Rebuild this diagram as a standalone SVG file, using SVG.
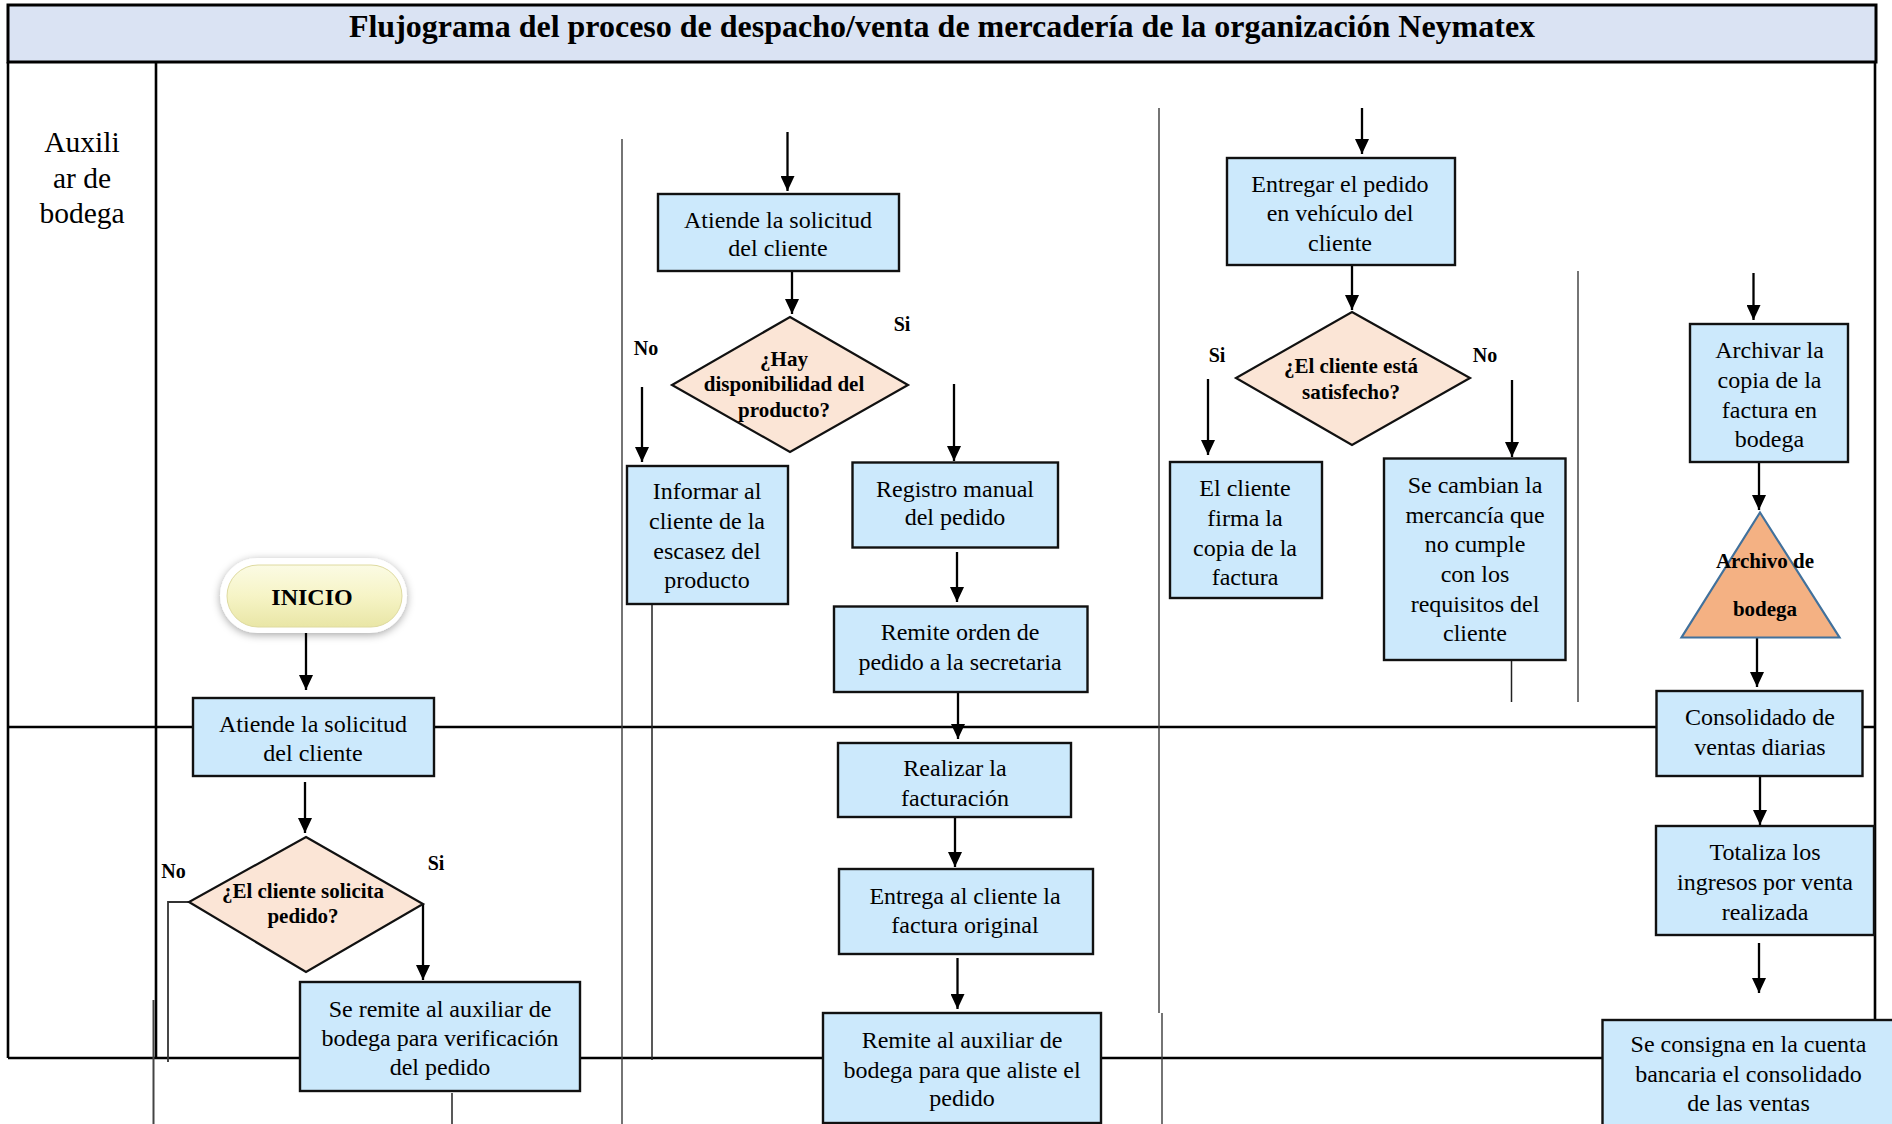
<svg xmlns="http://www.w3.org/2000/svg" width="1892" height="1124" viewBox="0 0 1892 1124">
  <defs>
    <style>
      .frame { stroke: #000; stroke-width: 2.6; fill: none; }
      .sep { stroke: #3a3a3a; stroke-width: 1.4; fill: none; }
      .box { fill: #cce9fc; stroke: #111; stroke-width: 2.4; }
      .dec { fill: #fbe5d6; stroke: #111; stroke-width: 2.2; }
      .conn { stroke: #000; stroke-width: 2.3; fill: none; marker-end: url(#ah); }
      .plain { stroke: #222; stroke-width: 1.5; fill: none; }
      text { font-family: "Liberation Serif", "Times New Roman", serif; fill: #000; text-anchor: middle; }
      .t { font-size: 24px; }
      .tb { font-size: 21px; font-weight: bold; }
      .lbl { font-size: 20px; font-weight: bold; }
    </style>
    <marker id="ah" markerWidth="15" markerHeight="14" refX="15" refY="7" orient="auto" markerUnits="userSpaceOnUse">
      <path d="M0,0 L15,7 L0,14 z" fill="#000"/>
    </marker>
    <linearGradient id="pillFill" x1="0" y1="0" x2="0" y2="1">
      <stop offset="0" stop-color="#fbfbe4"/>
      <stop offset="0.5" stop-color="#f6f4c6"/>
      <stop offset="1" stop-color="#e9e6a6"/>
    </linearGradient>
    <filter id="glow" x="-20%" y="-40%" width="140%" height="180%">
      <feDropShadow dx="0" dy="2" stdDeviation="4" flood-color="#000" flood-opacity="0.35"/>
    </filter>
  </defs>

  <!-- title band -->
  <g id="title">
    <rect x="8" y="5" width="1868" height="57" fill="#dae3f3" stroke="#000" stroke-width="3"/>
    <text x="942" y="37" style="font-size:32px;font-weight:bold">Flujograma del proceso de despacho/venta de mercadería de la organización Neymatex</text>
  </g>

  <!-- lane frame and separators -->
  <g id="lanes">
    <line class="frame" x1="8" y1="62" x2="8" y2="1058"/>
    <line class="frame" x1="156" y1="62" x2="156" y2="1058"/>
    <line class="frame" x1="1875" y1="62" x2="1875" y2="1020"/>
    <line class="frame" x1="8" y1="727" x2="1875" y2="727"/>
    <line class="frame" x1="8" y1="1058" x2="1602" y2="1058"/>
    <line x1="153.5" y1="1000" x2="153.5" y2="1124" stroke="#444" stroke-width="2"/>
    <line class="sep" x1="622" y1="139" x2="622" y2="1124"/>
    <line class="sep" x1="1159" y1="108" x2="1159" y2="1013"/>
    <line class="sep" x1="1162" y1="1013" x2="1162" y2="1124"/>
    <line class="sep" x1="1578" y1="271" x2="1578" y2="702"/>
    <text x="82" y="152" style="font-size:29.5px">Auxili</text>
    <text x="82" y="188" style="font-size:29.5px">ar de</text>
    <text x="82" y="223" style="font-size:29.5px">bodega</text>
  </g>

  <!-- connectors -->
  <g id="connectors">
    <line class="conn" x1="306" y1="631" x2="306" y2="690"/>
    <line class="conn" x1="305" y1="782" x2="305" y2="833"/>
    <line class="conn" x1="423" y1="904" x2="423" y2="980"/>
    <polyline points="189,902 168,902 168,1062" stroke="#333" stroke-width="1.8" fill="none"/>
    <line class="plain" x1="452" y1="1093" x2="452" y2="1124"/>

    <line class="conn" x1="787.5" y1="132" x2="787.5" y2="191"/>
    <line class="conn" x1="792" y1="264" x2="792" y2="314"/>
    <line class="conn" x1="642" y1="387" x2="642" y2="462"/>
    <line class="conn" x1="954" y1="384" x2="954" y2="461"/>
    <line class="plain" x1="652" y1="604" x2="652" y2="1060"/>
    <line class="conn" x1="957" y1="552" x2="957" y2="602"/>
    <line class="conn" x1="958" y1="688" x2="958" y2="739"/>
    <line class="conn" x1="955" y1="817" x2="955" y2="867"/>
    <line class="conn" x1="957.5" y1="958" x2="957.5" y2="1009"/>

    <line class="conn" x1="1362" y1="108" x2="1362" y2="154"/>
    <line class="conn" x1="1352" y1="265" x2="1352" y2="310"/>
    <line class="conn" x1="1208" y1="379" x2="1208" y2="455"/>
    <line class="conn" x1="1512" y1="380" x2="1512" y2="457"/>
    <line class="plain" x1="1511.5" y1="660" x2="1511.5" y2="702"/>

    <line class="conn" x1="1753.5" y1="273" x2="1753.5" y2="320"/>
    <line class="conn" x1="1759" y1="462" x2="1759" y2="510"/>
    <line class="conn" x1="1757" y1="637" x2="1757" y2="687"/>
    <line class="conn" x1="1760" y1="776" x2="1760" y2="825"/>
    <line class="conn" x1="1759" y1="943" x2="1759" y2="993"/>

    <text class="lbl" x="173.5" y="878">No</text>
    <text class="lbl" x="436" y="870">Si</text>
    <text class="lbl" x="646" y="355">No</text>
    <text class="lbl" x="902" y="331">Si</text>
    <text class="lbl" x="1217" y="362">Si</text>
    <text class="lbl" x="1485" y="362">No</text>
  </g>

  <!-- start terminator -->
  <g id="inicio">
    <rect x="220" y="558" width="187" height="75" rx="37.5" fill="#fff" filter="url(#glow)"/>
    <rect x="227" y="565" width="175" height="62" rx="31" fill="url(#pillFill)" stroke="#dedaa0" stroke-width="1"/>
    <text x="312" y="605" style="font-size:24px;font-weight:bold">INICIO</text>
  </g>

  <g id="atiende-bodega">
    <rect class="box" x="193" y="698" width="241" height="78"/>
    <text class="t" x="313" y="732">Atiende la solicitud</text>
    <text class="t" x="313" y="761">del cliente</text>
  </g>

  <g id="dec-solicita">
    <polygon class="dec" points="306,837 423,904 306,972 189,902"/>
    <text class="tb" x="303" y="898">¿El cliente solicita</text>
    <text class="tb" x="303" y="923">pedido?</text>
  </g>

  <g id="se-remite">
    <rect class="box" x="300" y="982" width="280" height="109"/>
    <text class="t" x="440" y="1017">Se remite al auxiliar de</text>
    <text class="t" x="440" y="1046">bodega para verificación</text>
    <text class="t" x="440" y="1075">del pedido</text>
  </g>

  <g id="atiende-ventas">
    <rect class="box" x="658" y="194" width="241" height="77"/>
    <text class="t" x="778" y="228">Atiende la solicitud</text>
    <text class="t" x="778" y="256">del cliente</text>
  </g>

  <g id="dec-disponibilidad">
    <polygon class="dec" points="790,317 908,385 790,452 672,385"/>
    <text class="tb" x="784" y="366">¿Hay</text>
    <text class="tb" x="784" y="391">disponibilidad del</text>
    <text class="tb" x="784" y="417">producto?</text>
  </g>

  <g id="informar">
    <rect class="box" x="627" y="466" width="161" height="138"/>
    <text class="t" x="707" y="499">Informar al</text>
    <text class="t" x="707" y="529">cliente de la</text>
    <text class="t" x="707" y="559">escasez del</text>
    <text class="t" x="707" y="588">producto</text>
  </g>

  <g id="registro">
    <rect class="box" x="852.5" y="462.5" width="205.5" height="85"/>
    <text class="t" x="955" y="497">Registro manual</text>
    <text class="t" x="955" y="525">del pedido</text>
  </g>

  <g id="remite-orden">
    <rect class="box" x="834" y="606.5" width="253.5" height="85.5"/>
    <text class="t" x="960" y="640">Remite orden de</text>
    <text class="t" x="960" y="670">pedido a la secretaria</text>
  </g>

  <g id="facturacion">
    <rect class="box" x="838" y="743" width="233" height="74"/>
    <text class="t" x="955" y="776">Realizar la</text>
    <text class="t" x="955" y="806">facturación</text>
  </g>

  <g id="entrega-factura">
    <rect class="box" x="839" y="869" width="254" height="85"/>
    <text class="t" x="965" y="904">Entrega al cliente la</text>
    <text class="t" x="965" y="933">factura original</text>
  </g>

  <g id="remite-auxiliar">
    <rect class="box" x="823" y="1013" width="278" height="110"/>
    <text class="t" x="962" y="1048">Remite al auxiliar de</text>
    <text class="t" x="962" y="1078">bodega para que aliste el</text>
    <text class="t" x="962" y="1106">pedido</text>
  </g>

  <g id="entregar-pedido">
    <rect class="box" x="1227" y="158" width="228" height="107"/>
    <text class="t" x="1340" y="192">Entregar el pedido</text>
    <text class="t" x="1340" y="221">en vehículo del</text>
    <text class="t" x="1340" y="251">cliente</text>
  </g>

  <g id="dec-satisfecho">
    <polygon class="dec" points="1352,312 1470,378 1352,445 1236,378"/>
    <text class="tb" x="1351" y="373">¿El cliente está</text>
    <text class="tb" x="1351" y="399">satisfecho?</text>
  </g>

  <g id="firma">
    <rect class="box" x="1170" y="462" width="152" height="136"/>
    <text class="t" x="1245" y="496">El cliente</text>
    <text class="t" x="1245" y="526">firma la</text>
    <text class="t" x="1245" y="556">copia de la</text>
    <text class="t" x="1245" y="585">factura</text>
  </g>

  <g id="cambio">
    <rect class="box" x="1384" y="458.5" width="181.5" height="201.5"/>
    <text class="t" x="1475" y="493">Se cambian la</text>
    <text class="t" x="1475" y="523">mercancía que</text>
    <text class="t" x="1475" y="552">no cumple</text>
    <text class="t" x="1475" y="582">con los</text>
    <text class="t" x="1475" y="612">requisitos del</text>
    <text class="t" x="1475" y="641">cliente</text>
  </g>

  <g id="archivar">
    <rect class="box" x="1690" y="324" width="158" height="138"/>
    <text class="t" x="1769.5" y="358">Archivar la</text>
    <text class="t" x="1769.5" y="388">copia de la</text>
    <text class="t" x="1769.5" y="418">factura en</text>
    <text class="t" x="1769.5" y="447">bodega</text>
  </g>

  <g id="archivo-bodega">
    <polygon points="1760,512.5 1839.5,637.5 1681.5,637.5" fill="#f4b183" stroke="#41719c" stroke-width="2.2"/>
    <text class="tb" x="1765" y="568">Archivo de</text>
    <text class="tb" x="1765" y="616">bodega</text>
  </g>

  <g id="consolidado">
    <rect class="box" x="1656.5" y="691" width="206" height="85"/>
    <text class="t" x="1760" y="725">Consolidado de</text>
    <text class="t" x="1760" y="755">ventas diarias</text>
  </g>

  <g id="totaliza">
    <rect class="box" x="1656" y="826" width="218" height="109"/>
    <text class="t" x="1765" y="860">Totaliza los</text>
    <text class="t" x="1765" y="890">ingresos por venta</text>
    <text class="t" x="1765" y="920">realizada</text>
  </g>

  <g id="consigna">
    <rect class="box" x="1602.5" y="1020" width="294" height="110"/>
    <text class="t" x="1748.5" y="1052">Se consigna en la cuenta</text>
    <text class="t" x="1748.5" y="1082">bancaria el consolidado</text>
    <text class="t" x="1748.5" y="1111">de las ventas</text>
  </g>
</svg>
